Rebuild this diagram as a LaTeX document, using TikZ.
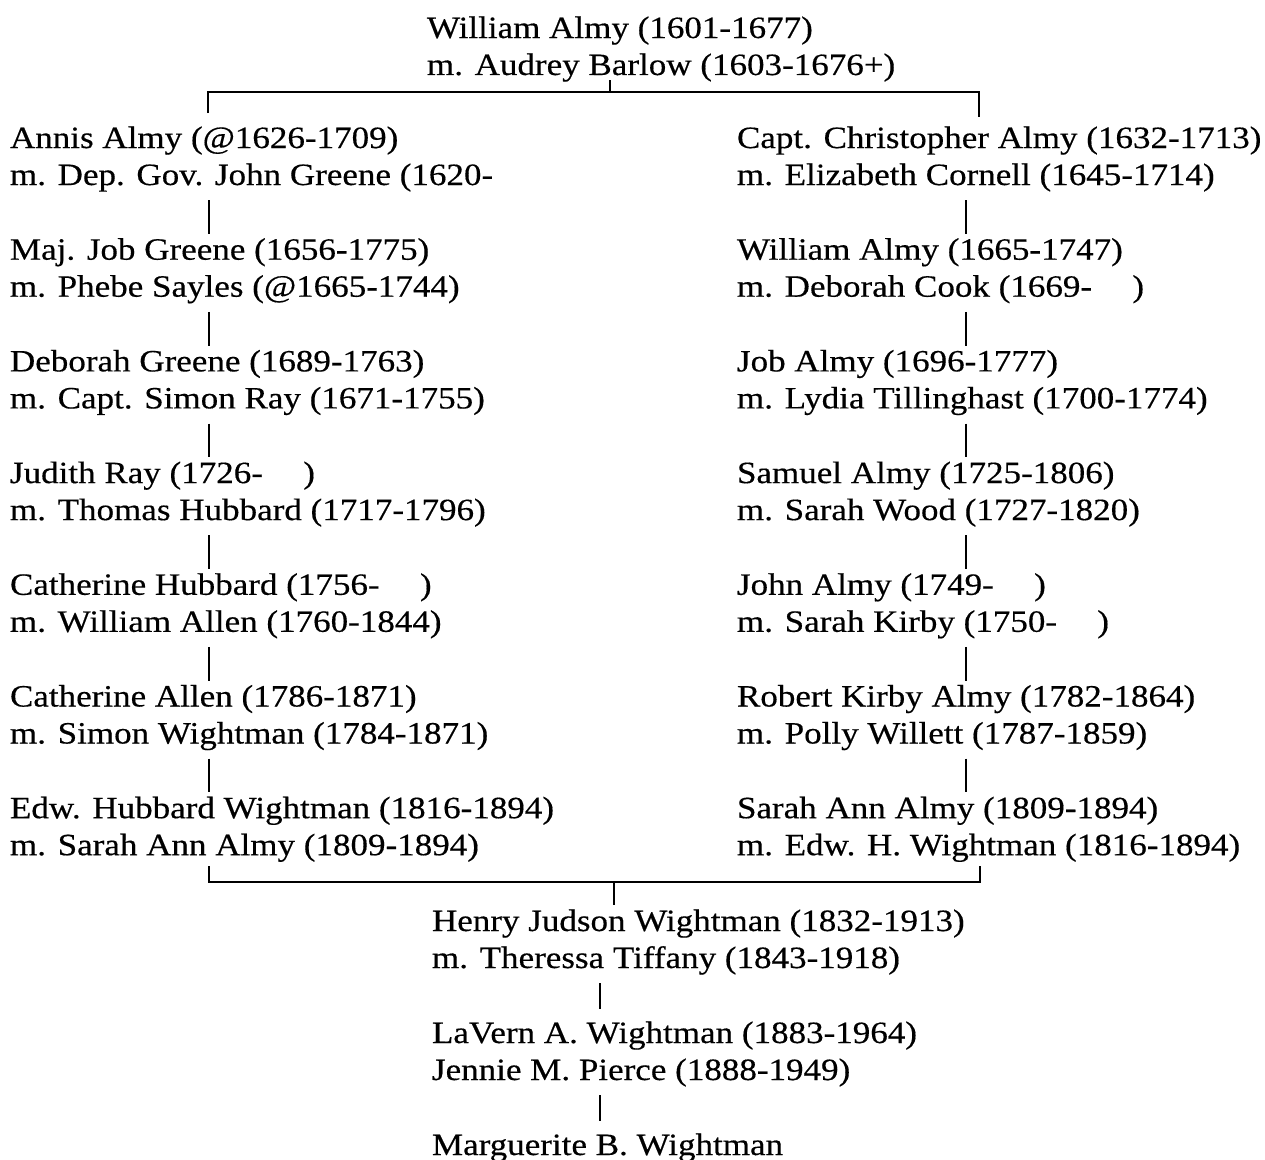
\documentclass[tikz,border=0pt]{standalone}
\usepackage{fontspec}
\setmainfont{Liberation Serif}[FakeStretch=1.13,FakeBold=0.4]
\begin{document}
\begin{tikzpicture}[x=0.75pt,y=-0.75pt,
  gen/.style={anchor=north west,inner sep=0pt,outer sep=0pt,align=left,
    font=\fontsize{23.25pt}{27.75pt}\selectfont},
  link/.style={line width=0.9pt,shorten <=3pt},
  bracket/.style={line width=1.5pt}]
\useasboundingbox (0,0) rectangle (1265,1160);
% top couple
\node[gen] (top) at (427,12.1) {\strut William Almy (1601-1677)\\\strut m. Audrey Barlow (1603-1676+)};
% left column
\node[gen] (L0) at (10,122.1) {\strut Annis Almy (@1626-1709)\\\strut m. Dep. Gov. John Greene (1620-};
\node[gen] (L1) at (10,233.8) {\strut Maj. Job Greene (1656-1775)\\\strut m. Phebe Sayles (@1665-1744)};
\node[gen] (L2) at (10,345.5) {\strut Deborah Greene (1689-1763)\\\strut m. Capt. Simon Ray (1671-1755)};
\node[gen] (L3) at (10,457.2) {\strut Judith Ray (1726-\hspace{1.3em})\\\strut m. Thomas Hubbard (1717-1796)};
\node[gen] (L4) at (10,568.9) {\strut Catherine Hubbard (1756-\hspace{1.3em})\\\strut m. William Allen (1760-1844)};
\node[gen] (L5) at (10,680.6) {\strut Catherine Allen (1786-1871)\\\strut m. Simon Wightman (1784-1871)};
\node[gen] (L6) at (10,792.3) {\strut Edw. Hubbard Wightman (1816-1894)\\\strut m. Sarah Ann Almy (1809-1894)};
% right column
\node[gen] (R0) at (737,122.1) {\strut Capt. Christopher Almy (1632-1713)\\\strut m. Elizabeth Cornell (1645-1714)};
\node[gen] (R1) at (737,233.8) {\strut William Almy (1665-1747)\\\strut m. Deborah Cook (1669-\hspace{1.3em})};
\node[gen] (R2) at (737,345.5) {\strut Job Almy (1696-1777)\\\strut m. Lydia Tillinghast (1700-1774)};
\node[gen] (R3) at (737,457.2) {\strut Samuel Almy (1725-1806)\\\strut m. Sarah Wood (1727-1820)};
\node[gen] (R4) at (737,568.9) {\strut John Almy (1749-\hspace{1.3em})\\\strut m. Sarah Kirby (1750-\hspace{1.3em})};
\node[gen] (R5) at (737,680.6) {\strut Robert Kirby Almy (1782-1864)\\\strut m. Polly Willett (1787-1859)};
\node[gen] (R6) at (737,792.3) {\strut Sarah Ann Almy (1809-1894)\\\strut m. Edw. H. Wightman (1816-1894)};
% bottom
\node[gen] (H) at (432,905.1) {\strut Henry Judson Wightman (1832-1913)\\\strut m. Theressa Tiffany (1843-1918)};
\node[gen] (V) at (432,1017.1) {\strut LaVern A. Wightman (1883-1964)\\\strut Jennie M. Pierce (1888-1949)};
\node[gen] (M) at (432,1129.1) {\strut Marguerite B. Wightman};
% coordinates
\coordinate (lx) at (209,0);
\coordinate (rx) at (966,0);
\coordinate (bx) at (600,0);
\coordinate (tc) at (610,92);
\coordinate (tl) at (208,92);
\coordinate (tr) at (979,92);
\coordinate (bl) at (209,882);
\coordinate (bc) at (614,882);
\coordinate (br) at (980,882);
% top bracket
\draw[bracket] (L0.north -| tl) ++(0,-9) -- (tl) -- (tr) -- ++(0,25);
\draw[link,shorten <=0pt] (top.south -| tc) ++(0,-6) -- (tc);
% left links
\foreach \a/\b in {L0/L1,L1/L2,L2/L3,L3/L4,L4/L5,L5/L6}
  \draw[link] (\a.south -| lx) -- (\b.north -| lx);
% right links
\foreach \a/\b in {R0/R1,R1/R2,R2/R3,R3/R4,R4/R5,R5/R6}
  \draw[link] (\a.south -| rx) -- (\b.north -| rx);
% bottom bracket
\draw[bracket] (L6.south -| bl) -- (bl) -- (br) -- (R6.south -| br);
\draw[link,shorten <=0pt] (bc) -- (H.north -| bc);
\draw[link,shorten >=6pt] (H.south -| bx) -- (V.north -| bx);
\draw[link,shorten >=6pt] (V.south -| bx) -- (M.north -| bx);
\end{tikzpicture}
\end{document}
